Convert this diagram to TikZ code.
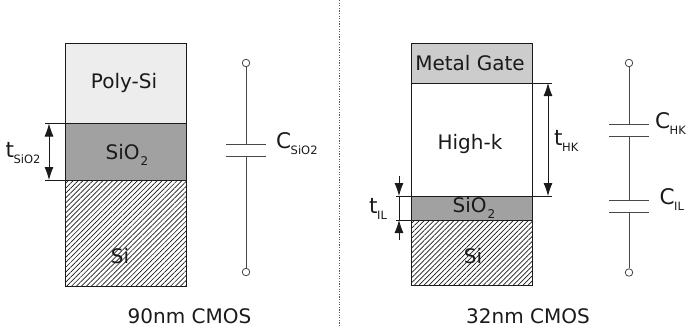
\documentclass[tikz,border=0pt]{standalone}
\usepackage{fontspec}
\setmainfont{DejaVu Sans}
\usetikzlibrary{patterns.meta,arrows.meta}
\definecolor{inkc}{HTML}{1A1A1A}
\tikzset{
  layer/.style={draw=inkc,line width=0.8pt,anchor=north west,inner sep=0pt,minimum width=121pt,outer sep=0pt},
  polyfill/.style={layer,fill=black!7},
  oxide/.style={layer,fill=black!37},
  metal/.style={layer,fill=black!20},
  hatchfill/.style={layer,pattern={Lines[angle=45,distance=3.5pt,line width=0.7pt]},pattern color=inkc},
  lab/.style={font=\fontsize{20}{24}\selectfont,text=inkc,inner sep=0pt},
  sym/.style={font=\fontsize{21.5}{26}\selectfont,text=inkc,inner sep=0pt},
  term/.style={circle,draw=inkc!80,line width=0.8pt,fill=white,inner sep=0pt,minimum size=7.5pt},
  wire/.style={draw=inkc!80,line width=0.8pt},
  plate/.style={draw=inkc!80,line width=1pt},
  tick/.style={draw=inkc,line width=0.7pt},
  dim/.style={draw=inkc,line width=0.8pt,{Latex[length=13pt,width=9pt]}-{Latex[length=13pt,width=9pt]}},
  dimend/.style={draw=inkc,line width=0.8pt,-{Latex[length=13pt,width=9pt]}}
}
\newcommand{\subtxt}[1]{\kern-0.5pt\raisebox{-6pt}{\fontsize{11.5}{13}\selectfont #1}}
\newcommand{\twosub}{\raisebox{-6pt}{\fontsize{12}{13}\selectfont\kern1pt 2}}
\begin{document}
\begin{tikzpicture}[x=1pt,y=-1pt]
\useasboundingbox (0,0) rectangle (686,333);
% divider
\coordinate (dtop) at (339,0); \coordinate (dbot) at (339,326);
\draw[black!65,line width=0.9pt,dash pattern=on 1.2pt off 1.4pt] (dtop) -- (dbot);
% left stack
\node[polyfill,minimum height=80.5pt] (lpoly) at (65,43) {};
\node[oxide,minimum height=56.5pt] (lox) at (65,123.5) {};
\node[hatchfill,minimum height=106pt] (lsi) at (65,180) {};
\node[lab] (t1) at (124,83) {Poly-Si};
\node[lab] (t2) at (127,155) {SiO\twosub};
\node[lab] (t3) at (120,256) {Si};
\coordinate (lt1) at (45,123.5); \coordinate (lt2) at (45,180);
\draw[tick] (lt1) -- (lox.north west);
\draw[tick] (lt2) -- (lox.south west);
\coordinate (la1) at (49,123.5); \coordinate (la2) at (49,180);
\draw[dim] (la1) -- (la2);
\node[sym,anchor=base west] (t4) at (5.5,157) {t\subtxt{SiO2}};
% left capacitor
\node[term] (lc1) at (246,63) {};
\node[term] (lc2) at (246,272) {};
\coordinate (lp1) at (246,144); \coordinate (lp2) at (246,156);
\draw[wire] (lc1) -- (lp1);
\draw[wire] (lp2) -- (lc2);
\draw[plate] (226,144) -- (266,144);
\draw[plate] (226,156) -- (266,156);
\node[sym,anchor=base west] (t5) at (276,148) {C\subtxt{SiO2}};
% right stack
\node[metal,minimum height=40pt,minimum width=120.5pt] (rm) at (411.5,43) {};
\node[layer,minimum height=113pt,minimum width=120.5pt] (rh) at (411.5,83) {};
\node[oxide,minimum height=24pt,minimum width=120.5pt] (rox) at (411.5,196) {};
\node[hatchfill,minimum height=65pt,minimum width=120.5pt] (rsi) at (411.5,220) {};
\node[lab] (t6) at (470,63) {Metal Gate};
\node[lab] (t7) at (470,144) {High-k};
\node[lab] (t8) at (474,208) {SiO\twosub};
\node[lab] (t9) at (473,256) {Si};
% t_HK
\coordinate (ht1) at (552,83); \coordinate (ht2) at (552,196);
\draw[tick] (rm.south east) -- (ht1);
\draw[tick] (rox.north east) -- (ht2);
\coordinate (ha1) at (548,83); \coordinate (ha2) at (548,196);
\draw[dim] (ha1) -- (ha2);
\node[sym,anchor=base west] (t10) at (554,145) {t\subtxt{HK}};
% t_IL
\coordinate (it1) at (396,196); \coordinate (it2) at (396,220);
\draw[tick] (it1) -- (rox.north west);
\draw[tick] (it2) -- (rox.south west);
\coordinate (ia0) at (399,176); \coordinate (ia1) at (399,196);
\coordinate (ib0) at (399,240); \coordinate (ib1) at (399,220);
\draw[dimend] (ia0) -- (ia1);
\draw[dimend] (ib0) -- (ib1);
\draw[tick] (ia1) -- (ib1);
\node[sym,anchor=base west] (t11) at (369,213) {t\subtxt{IL}};
% right capacitors
\node[term] (rc1) at (629,63) {};
\node[term] (rc2) at (629,272.5) {};
\coordinate (rp1) at (629,124); \coordinate (rp2) at (629,136);
\coordinate (rp3) at (629,200.5); \coordinate (rp4) at (629,212);
\draw[wire] (rc1) -- (rp1);
\draw[wire] (rp2) -- (rp3);
\draw[wire] (rp4) -- (rc2);
\draw[plate] (609,124) -- (649,124);
\draw[plate] (609,136) -- (649,136);
\draw[plate] (609,200.5) -- (649,200.5);
\draw[plate] (609,212) -- (649,212);
\node[sym,anchor=base west] (t12) at (655,128) {C\subtxt{HK}};
\node[sym,anchor=base west] (t13) at (659.5,204) {C\subtxt{IL}};
% captions
\node[lab] (c1) at (189.5,316) {90nm CMOS};
\node[lab] (c2) at (528,316) {32nm CMOS};
\end{tikzpicture}
\end{document}
